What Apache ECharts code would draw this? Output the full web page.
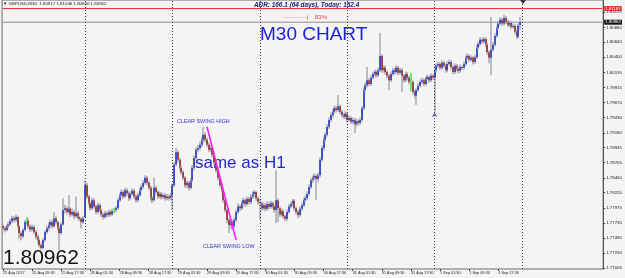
<!DOCTYPE html>
<html><head><meta charset="utf-8">
<script src="https://cdn.jsdelivr.net/npm/echarts@6/dist/echarts.min.js"></script>
<style>html,body{margin:0;padding:0;background:#f4f4f4}#c{width:625px;height:278px}</style>
</head><body><div id="c"></div>
<script>
// ---- data (GBPUSD M30, 25 Aug 2017 01:30 .. 1 Sep 2017 23:30) ----
const opens = [
1.7768,1.7765,1.7762,1.7768,1.7771,1.7776,1.7781,1.7778,1.7783,1.7768,
1.7757,1.7752,1.7762,1.7777,1.7777,1.7768,1.7763,1.7767,1.7759,1.7751,
1.7746,1.7738,1.7733,1.7746,1.7759,1.7765,1.7770,1.7775,1.7768,1.7781,
1.7775,1.7765,1.7757,1.7771,1.7794,1.7797,1.7791,1.7796,1.7787,1.7791,
1.7784,1.7789,1.7783,1.7780,1.7775,1.7783,1.7834,1.7816,1.7805,1.7797,
1.7810,1.7800,1.7791,1.7802,1.7794,1.7787,1.7783,1.7789,1.7786,1.7791,
1.7787,1.7794,1.7794,1.7797,1.7810,1.7818,1.7823,1.7816,1.7826,1.7821,
1.7813,1.7820,1.7825,1.7816,1.7810,1.7818,1.7826,1.7831,1.7838,1.7846,
1.7838,1.7830,1.7813,1.7810,1.7830,1.7823,1.7816,1.7820,1.7815,1.7818,
1.7813,1.7816,1.7813,1.7818,1.7834,1.7867,1.7887,1.7875,1.7862,1.7855,
1.7846,1.7834,1.7838,1.7830,1.7842,1.7862,1.7878,1.7891,1.7894,1.7899,
1.7907,1.7915,1.7907,1.7899,1.7891,1.7894,1.7883,1.7871,1.7858,1.7846,
1.7834,1.7826,1.7810,1.7794,1.7778,1.7770,1.7775,1.7768,1.7778,1.7791,
1.7800,1.7797,1.7805,1.7810,1.7804,1.7812,1.7807,1.7815,1.7820,1.7823,
1.7813,1.7807,1.7805,1.7797,1.7802,1.7796,1.7804,1.7799,1.7805,1.7800,
1.7794,1.7810,1.7797,1.7787,1.7792,1.7784,1.7780,1.7791,1.7800,1.7804,
1.7809,1.7797,1.7791,1.7786,1.7796,1.7802,1.7810,1.7813,1.7820,1.7831,
1.7842,1.7846,1.7849,1.7844,1.7850,1.7875,1.7894,1.7907,1.7915,1.7928,
1.7939,1.7947,1.7952,1.7958,1.7955,1.7961,1.7952,1.7947,1.7944,1.7949,
1.7939,1.7942,1.7936,1.7939,1.7932,1.7937,1.7934,1.7939,1.7958,1.7987,
1.7995,1.8003,1.7997,1.8007,1.8013,1.8016,1.8011,1.8019,1.8042,1.8019,
1.8023,1.8016,1.8010,1.8003,1.8013,1.8019,1.8016,1.8023,1.8015,1.8019,
1.8010,1.8003,1.8013,1.8007,1.8000,1.8000,1.7984,1.7978,1.7987,1.7994,
1.8000,1.8003,1.7997,1.8005,1.8008,1.8003,1.8010,1.8007,1.8019,1.8026,
1.8029,1.8023,1.8031,1.8026,1.8019,1.8029,1.8032,1.8024,1.8016,1.8026,
1.8021,1.8018,1.8024,1.8023,1.8029,1.8039,1.8042,1.8036,1.8039,1.8032,
1.8040,1.8055,1.8061,1.8068,1.8065,1.8069,1.8060,1.8048,1.8039,1.8052,
1.8060,1.8074,1.8087,1.8094,1.8100,1.8094,1.8103,1.8097,1.8092,1.8095,
1.8089,1.8090,1.8081,1.8073,1.80917];
const closes = [
1.7765,1.7762,1.7768,1.7771,1.7776,1.7781,1.7778,1.7783,1.7768,1.7757,
1.7752,1.7762,1.7775,1.7777,1.7768,1.7763,1.7767,1.7759,1.7751,1.7746,
1.7738,1.7733,1.7746,1.7759,1.7765,1.7770,1.7775,1.7768,1.7781,1.7775,
1.7765,1.7757,1.7771,1.7794,1.7797,1.7791,1.7796,1.7787,1.7791,1.7784,
1.7789,1.7783,1.7780,1.7775,1.7781,1.7834,1.7816,1.7805,1.7797,1.7810,
1.7800,1.7791,1.7802,1.7794,1.7787,1.7783,1.7789,1.7786,1.7791,1.7787,
1.7792,1.7794,1.7797,1.7810,1.7818,1.7823,1.7816,1.7826,1.7821,1.7813,
1.7820,1.7825,1.7816,1.7810,1.7818,1.7826,1.7831,1.7838,1.7846,1.7838,
1.7830,1.7813,1.7810,1.7830,1.7823,1.7816,1.7820,1.7815,1.7818,1.7813,
1.7816,1.7813,1.7818,1.7834,1.7867,1.7887,1.7875,1.7862,1.7855,1.7846,
1.7834,1.7838,1.7830,1.7842,1.7862,1.7878,1.7891,1.7894,1.7899,1.7907,
1.7915,1.7907,1.7899,1.7891,1.7894,1.7883,1.7871,1.7858,1.7846,1.7834,
1.7826,1.7810,1.7794,1.7778,1.7770,1.7775,1.7768,1.7778,1.7791,1.7800,
1.7797,1.7805,1.7810,1.7804,1.7812,1.7807,1.7815,1.7820,1.7823,1.7813,
1.7807,1.7805,1.7797,1.7802,1.7796,1.7804,1.7799,1.7805,1.7800,1.7794,
1.7810,1.7797,1.7787,1.7792,1.7784,1.7780,1.7791,1.7800,1.7804,1.7809,
1.7797,1.7791,1.7786,1.7796,1.7802,1.7810,1.7813,1.7820,1.7831,1.7842,
1.7846,1.7849,1.7844,1.7850,1.7875,1.7894,1.7907,1.7915,1.7928,1.7939,
1.7947,1.7952,1.7958,1.7955,1.7961,1.7952,1.7947,1.7944,1.7949,1.7939,
1.7942,1.7936,1.7939,1.7932,1.7937,1.7934,1.7939,1.7958,1.7987,1.7995,
1.8003,1.7997,1.8007,1.8013,1.8016,1.8011,1.8019,1.8042,1.8019,1.8023,
1.8016,1.8010,1.8003,1.8013,1.8019,1.8016,1.8023,1.8015,1.8019,1.8010,
1.8003,1.8013,1.8007,1.8000,1.8000,1.7984,1.7978,1.7987,1.7994,1.8000,
1.8003,1.7997,1.8005,1.8008,1.8003,1.8010,1.8007,1.8019,1.8026,1.8029,
1.8023,1.8031,1.8026,1.8019,1.8029,1.8032,1.8024,1.8016,1.8026,1.8021,
1.8018,1.8024,1.8023,1.8029,1.8039,1.8042,1.8036,1.8039,1.8032,1.8040,
1.8055,1.8061,1.8068,1.8065,1.8069,1.8060,1.8048,1.8039,1.8052,1.8060,
1.8074,1.8087,1.8094,1.8100,1.8094,1.8103,1.8097,1.8092,1.8095,1.8089,
1.8090,1.8081,1.8073,1.8091,1.80962];
const lows = [
1.7761,1.7758,1.7760,1.7765,1.7769,1.7773,1.7774,1.7775,1.7765,1.7748,
1.7745,1.7749,1.7760,1.7771,1.7764,1.7759,1.7760,1.7755,1.7747,1.7741,
1.7734,1.7730,1.7731,1.7743,1.7756,1.7761,1.7767,1.7764,1.7766,1.7771,
1.7761,1.7730,1.7754,1.7769,1.7789,1.7787,1.7788,1.7783,1.7784,1.7780,
1.7781,1.7779,1.7776,1.7765,1.7772,1.7781,1.7812,1.7801,1.7793,1.7794,
1.7796,1.7787,1.7788,1.7790,1.7783,1.7779,1.7780,1.7782,1.7783,1.7784,
1.7784,1.7789,1.7791,1.7795,1.7807,1.7815,1.7812,1.7814,1.7817,1.7809,
1.7810,1.7817,1.7812,1.7806,1.7807,1.7815,1.7823,1.7828,1.7835,1.7834,
1.7826,1.7809,1.7805,1.7808,1.7819,1.7812,1.7813,1.7811,1.7812,1.7809,
1.7810,1.7809,1.7810,1.7794,1.7831,1.7864,1.7871,1.7858,1.7851,1.7842,
1.7830,1.7829,1.7825,1.7827,1.7839,1.7858,1.7875,1.7887,1.7890,1.7895,
1.7903,1.7903,1.7895,1.7887,1.7887,1.7879,1.7867,1.7854,1.7842,1.7830,
1.7822,1.7806,1.7790,1.7773,1.7757,1.7765,1.7762,1.7764,1.7775,1.7788,
1.7792,1.7794,1.7801,1.7800,1.7801,1.7803,1.7804,1.7812,1.7816,1.7809,
1.7803,1.7778,1.7793,1.7794,1.7792,1.7793,1.7795,1.7796,1.7796,1.7790,
1.7773,1.7775,1.7783,1.7784,1.7780,1.7776,1.7777,1.7788,1.7797,1.7800,
1.7793,1.7787,1.7781,1.7783,1.7793,1.7799,1.7806,1.7810,1.7817,1.7828,
1.7838,1.7842,1.7810,1.7840,1.7847,1.7872,1.7890,1.7903,1.7912,1.7925,
1.7936,1.7943,1.7949,1.7951,1.7952,1.7948,1.7943,1.7940,1.7941,1.7935,
1.7936,1.7932,1.7932,1.7918,1.7928,1.7930,1.7931,1.7936,1.7955,1.7983,
1.7991,1.7993,1.7994,1.8004,1.8009,1.8007,1.8008,1.8016,1.8015,1.8015,
1.8012,1.8006,1.7987,1.8000,1.8010,1.8012,1.8013,1.8011,1.8012,1.7984,
1.7999,1.8000,1.8003,1.7996,1.7985,1.7980,1.7973,1.7963,1.7984,1.7991,
1.7997,1.7993,1.7994,1.8002,1.7999,1.8000,1.8003,1.7952,1.8016,1.8023,
1.8019,1.8020,1.8022,1.8015,1.8016,1.8026,1.8020,1.8012,1.8013,1.8017,
1.8014,1.8015,1.8019,1.8020,1.8026,1.8036,1.8032,1.8033,1.8028,1.8029,
1.8037,1.8052,1.8058,1.8061,1.8062,1.8056,1.8044,1.8030,1.8011,1.8049,
1.8057,1.8071,1.8084,1.8091,1.8090,1.8091,1.8093,1.8088,1.8089,1.8085,
1.8086,1.8077,1.8069,1.8070,1.80840];
const highs = [
1.7771,1.7768,1.7771,1.7775,1.7780,1.7785,1.7784,1.7787,1.7785,1.7770,
1.7760,1.7765,1.7778,1.7783,1.7780,1.7771,1.7771,1.7770,1.7762,1.7755,
1.7749,1.7742,1.7749,1.7762,1.7769,1.7774,1.7779,1.7778,1.7791,1.7785,
1.7777,1.7768,1.7774,1.7813,1.7803,1.7800,1.7818,1.7799,1.7797,1.7794,
1.7816,1.7792,1.7786,1.7783,1.7785,1.7842,1.7838,1.7819,1.7808,1.7814,
1.7813,1.7803,1.7806,1.7805,1.7797,1.7790,1.7793,1.7792,1.7795,1.7794,
1.7796,1.7798,1.7801,1.7813,1.7822,1.7827,1.7826,1.7830,1.7829,1.7824,
1.7824,1.7829,1.7828,1.7819,1.7822,1.7830,1.7835,1.7842,1.7850,1.7849,
1.7841,1.7833,1.7816,1.7846,1.7833,1.7826,1.7824,1.7823,1.7822,1.7821,
1.7820,1.7819,1.7822,1.7837,1.7871,1.7894,1.7890,1.7878,1.7866,1.7858,
1.7849,1.7842,1.7841,1.7846,1.7866,1.7882,1.7895,1.7899,1.7904,1.7911,
1.7928,1.7919,1.7910,1.7903,1.7898,1.7897,1.7886,1.7874,1.7862,1.7849,
1.7837,1.7829,1.7813,1.7797,1.7781,1.7779,1.7778,1.7782,1.7795,1.7805,
1.7803,1.7809,1.7814,1.7813,1.7816,1.7815,1.7819,1.7824,1.7826,1.7825,
1.7816,1.7812,1.7808,1.7806,1.7805,1.7808,1.7807,1.7809,1.7808,1.7803,
1.7858,1.7813,1.7800,1.7796,1.7795,1.7787,1.7795,1.7804,1.7808,1.7812,
1.7812,1.7800,1.7794,1.7800,1.7806,1.7814,1.7817,1.7824,1.7835,1.7846,
1.7850,1.7853,1.7852,1.7854,1.7879,1.7898,1.7911,1.7919,1.7932,1.7943,
1.7951,1.7956,1.7962,1.7962,1.7979,1.7964,1.7955,1.7950,1.7953,1.7952,
1.7946,1.7945,1.7943,1.7942,1.7941,1.7940,1.7943,1.7962,1.7991,1.7999,
1.8024,1.8006,1.8011,1.8017,1.8020,1.8019,1.8023,1.8079,1.8045,1.8027,
1.8026,1.8019,1.8013,1.8017,1.8023,1.8022,1.8027,1.8026,1.8023,1.8022,
1.8013,1.8017,1.8016,1.8010,1.8014,1.8003,1.7987,1.7990,1.7998,1.8004,
1.8007,1.8006,1.8009,1.8012,1.8011,1.8014,1.8013,1.8023,1.8030,1.8033,
1.8032,1.8035,1.8034,1.8029,1.8033,1.8036,1.8035,1.8027,1.8030,1.8029,
1.8024,1.8028,1.8027,1.8033,1.8043,1.8046,1.8045,1.8043,1.8042,1.8044,
1.8059,1.8065,1.8072,1.8071,1.8073,1.8072,1.8063,1.8051,1.8105,1.8064,
1.8078,1.8091,1.8098,1.8104,1.8103,1.8108,1.8106,1.8100,1.8099,1.8098,
1.8094,1.8093,1.8084,1.8094,1.81046];

const xTickLabels = ['25 Aug 2017','25 Aug 09:30','25 Aug 17:30','28 Aug 01:30','28 Aug 09:30','28 Aug 17:30',
  '29 Aug 01:30','29 Aug 09:30','29 Aug 17:30','30 Aug 01:30','30 Aug 09:30','30 Aug 17:30',
  '31 Aug 01:30','31 Aug 09:30','31 Aug 17:30','1 Sep 01:30','1 Sep 09:30','1 Sep 17:30'];
const yTickValues = [1.81125,1.80880,1.80640,1.80400,1.80155,1.79915,1.79670,1.79430,1.79180,
  1.78945,1.78705,1.78460,1.78220,1.77975,1.77735,1.77490,1.77250,1.77005];
const daySeparators = [45, 93, 141, 189, 237, 285];
const adrLevel = 1.81181;
const lastPrice = 1.80962;
const swingHigh = [112, 1.79281];
const swingLow = [128, 1.77457];
const arrowBar = 237;

const barsPerLabel = 16;
const totalSlots = 330;
const yMin = 1.76993, yMax = 1.81319;
const categories = Array.from({length: totalSlots}, (_, i) => String(i));
const ohlc = opens.map((o, i) => [i, o, closes[i], lows[i], highs[i]]);
const firstCat = categories[0], lastCat = categories[totalSlots - 1];

const F = 'Liberation Sans, Arial, sans-serif';
const chart = echarts.init(document.getElementById('c'), null, {renderer: 'canvas'});

function renderItem(params, api) {
  const i = api.value(0), o = api.value(1), c = api.value(2), l = api.value(3), h = api.value(4);
  const pO = api.coord([i, o]), pC = api.coord([i, c]), pL = api.coord([i, l]), pH = api.coord([i, h]);
  const cx = Math.round(pO[0]);
  const doji = o === c;
  const children = [{
    type: 'rect',
    shape: {x: cx - 0.7, y: pH[1], width: 1.4, height: Math.max(pL[1] - pH[1], 1)},
    style: {fill: doji ? '#2ee02e' : '#9ea6ae'}
  }];
  if (!doji) {
    const top = Math.min(pO[1], pC[1]);
    children.push({
      type: 'rect',
      shape: {x: cx - 0.7, y: top, width: 1.5, height: Math.max(Math.abs(pO[1] - pC[1]), 1)},
      style: {fill: c > o ? '#1e2ec4' : '#962222'}
    });
  }
  return {type: 'group', children};
}

const sepLines = daySeparators.map(d => ({
  xAxis: String(d),
  lineStyle: {color: '#3a3a3a', type: [1, 2], width: 1},
  label: {show: false}
}));

const priceBoxAxis = (value, bg) => ({
  type: 'value', position: 'right', min: yMin, max: yMax,
  axisLine: {show: false}, axisTick: {show: false}, splitLine: {show: false},
  axisLabel: {customValues: [value], formatter: v => v.toFixed(5), fontSize: 4.4, margin: 1,
    color: '#fff', backgroundColor: bg, padding: [1, 1, 0, 1], fontFamily: F}
});

chart.setOption({
  backgroundColor: '#f4f4f4',
  animation: false,
  grid: {left: 1, right: 21, top: 0, bottom: 9, show: true, borderColor: '#6a6a6a', borderWidth: 1, backgroundColor: '#f4f4f4'},
  xAxis: {
    type: 'category', data: categories, boundaryGap: true,
    axisLine: {show: false},
    axisTick: {show: true, alignWithLabel: true, length: 2, lineStyle: {color: '#444'},
      interval: (idx) => idx % barsPerLabel === 0 && idx / barsPerLabel < xTickLabels.length},
    axisLabel: {
      interval: (idx) => idx % barsPerLabel === 0 && idx / barsPerLabel < xTickLabels.length,
      formatter: (v, idx) => xTickLabels[Math.round(Number(v) / barsPerLabel)] || '',
      align: 'left', fontSize: 3.8, color: '#222', margin: 2, fontFamily: F
    },
    splitLine: {show: false}
  },
  yAxis: [{
    type: 'value', position: 'right', min: yMin, max: yMax,
    axisLine: {show: true, lineStyle: {color: '#555'}},
    axisTick: {show: true, length: 2, customValues: yTickValues, lineStyle: {color: '#444'}},
    axisLabel: {customValues: yTickValues, formatter: v => v.toFixed(5), fontSize: 4.4, margin: 3, color: '#222', fontFamily: F},
    splitLine: {show: false}
  }, priceBoxAxis(adrLevel, '#f02a2a'), priceBoxAxis(lastPrice, '#111')],
  series: [{
    type: 'custom',
    renderItem,
    data: ohlc,
    encode: {x: 0, y: [1, 2, 3, 4]},
    clip: true,
    z: 3,
    markLine: {
      symbol: 'none', silent: true, animation: false,
      data: [
        ...sepLines,
        [{coord: [String(swingHigh[0]), swingHigh[1]], lineStyle: {color: '#ff1cff', width: 1.6, type: 'solid'}, label: {show: false}},
         {coord: [String(swingLow[0]), swingLow[1]]}]
      ]
    },
    markPoint: {
      symbol: 'path://M5 0 L10 8 L8 8 L5 3 L2 8 L0 8 Z', symbolSize: [5, 4], silent: true,
      itemStyle: {color: '#2a2ad0'},
      label: {show: false},
      data: [{coord: [String(arrowBar), lows[arrowBar]], symbolOffset: [0, 3]}]
    }
  }, {
    type: 'line', name: 'ADR', data: [[firstCat, adrLevel], [lastCat, adrLevel]],
    symbol: 'none', silent: true, lineStyle: {color: '#f02a2a', width: 1}, z: 2
  }, {
    type: 'line', name: 'Bid', data: [[firstCat, lastPrice], [lastCat, lastPrice]],
    symbol: 'none', silent: true, lineStyle: {color: '#8c8c8c', width: 1}, z: 2
  }],
  graphic: [
    {type: 'text', x: 3, y: 2, style: {text: '\u25BC GBPUSD,M30  1.80917 1.81046 1.80840 1.80962', fill: '#222', font: '4.4px ' + F}},
    {type: 'text', x: 254, y: 2, style: {text: 'ADR: 166.1 (64 days), Today: 152.4', fill: '#1d237a', font: 'italic bold 6.4px ' + F}},
    {type: 'text', x: 283, y: 13, style: {text: '...............', fill: '#e88a8a', font: 'bold 6px ' + F}},
    {type: 'text', x: 307, y: 14, style: {text: '|', fill: '#e23a3a', font: '6px ' + F}},
    {type: 'text', x: 315, y: 14, style: {text: '83%', fill: '#e23a3a', font: '6px ' + F}},
    {type: 'text', x: 260, y: 25, style: {text: 'M30 CHART', fill: '#1f22dc', font: '19px ' + F}},
    {type: 'text', x: 195, y: 155, style: {text: 'same as H1', fill: '#2228c8', font: '17px ' + F}},
    {type: 'text', x: 177, y: 119, style: {text: 'CLEAR SWING HIGH', fill: '#3535c8', font: '5.4px ' + F}},
    {type: 'text', x: 203, y: 244, style: {text: 'CLEAR SWING LOW', fill: '#3535c8', font: '5.4px ' + F}},
    {type: 'text', x: 3, y: 248, style: {text: '1.80962', fill: '#111', font: '21px ' + F}},
    {type: 'polygon', shape: {points: [[520, 0], [526, 0], [523, 4]]}, style: {fill: '#333'}}
  ]
});
</script>
</body></html>
